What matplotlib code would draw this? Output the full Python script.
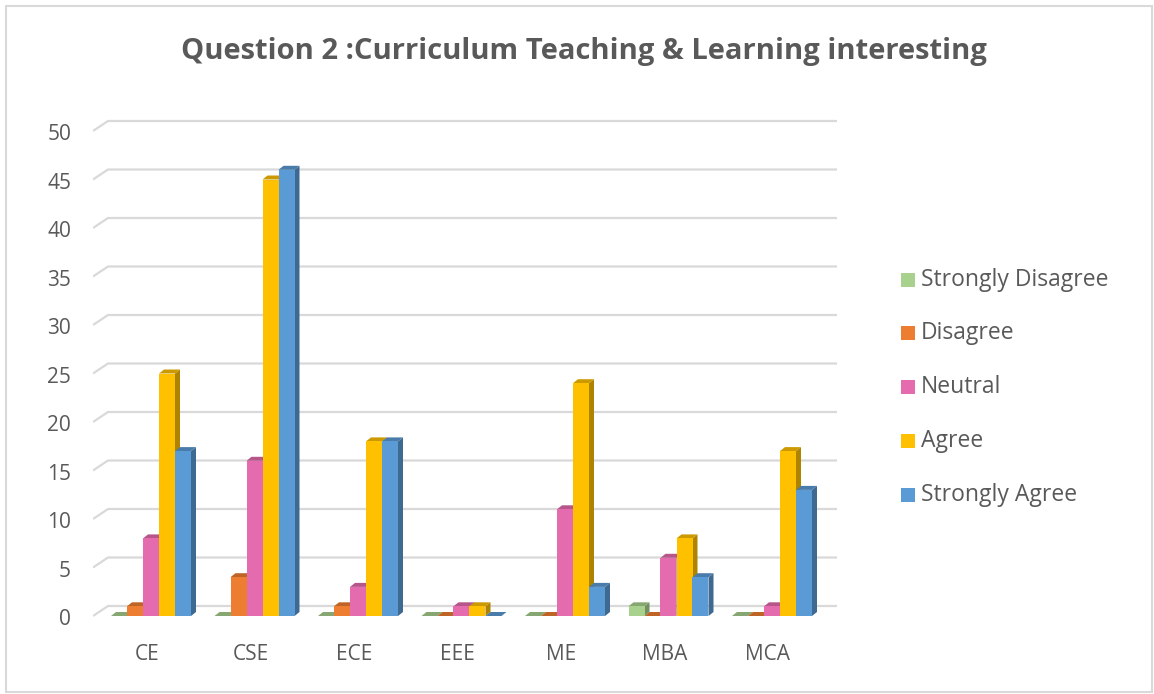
import matplotlib.pyplot as plt
from matplotlib.patches import Polygon, Rectangle
from matplotlib.colors import to_rgb

# 데이터
programs = ['CE', 'CSE', 'ECE', 'EEE', 'ME', 'MBA', 'MCA']
responses = ['Strongly Disagree', 'Disagree', 'Neutral', 'Agree', 'Strongly Agree']
strongly_disagree = [0, 0, 0, 0, 0, 1, 0]
disagree = [1, 4, 1, 0, 0, 0, 0]
neutral = [8, 16, 3, 1, 11, 6, 1]
agree = [25, 45, 18, 1, 24, 8, 17]
strongly_agree = [17, 46, 18, 0, 3, 4, 13]
series = [strongly_disagree, disagree, neutral, agree, strongly_agree]
colors = ['#A9D18E', '#ED7D31', '#E46BAE', '#FFC000', '#5B9BD5']
y_ticks = list(range(0, 51, 5))

title = 'Question 2 :Curriculum Teaching & Learning interesting'
text_color = '#595959'
grid_color = '#D9D9D9'


def shade(c, f):
    r, g, b = to_rgb(c)
    return (r * f, g * f, b * f)


W, H = 1154, 694
fig = plt.figure(figsize=(W / 100, H / 100), dpi=100)
plt.rcParams['font.family'] = ['Open Sans', 'DejaVu Sans']

# 축 위치 (픽셀 기준)
px_left, px_right, px_top, px_bot = 93, 837, 110, 640
ax = fig.add_axes([px_left / W, 1 - px_bot / H,
                   (px_right - px_left) / W, (px_bot - px_top) / H])
x_per_px = 1 / 103.5
y_per_px = 1 / 9.7
x0_px, y0_px = 151, 616
ax.set_xlim((px_left - x0_px) * x_per_px, (px_right - x0_px) * x_per_px)
ax.set_ylim(-(px_bot - y0_px) * y_per_px, (y0_px - px_top) * y_per_px)
ax.axis('off')

# 뒷벽 격자선
xl = ax.get_xlim()[0]
xb = xl + 15 * x_per_px
xr = ax.get_xlim()[1]
dy_grid = 10 * y_per_px
for v in y_ticks:
    ax.plot([xl, xb, xr], [v, v + dy_grid, v + dy_grid], color=grid_color,
            lw=1.6, zorder=1, solid_capstyle='butt')
    ax.text((71 - x0_px) * x_per_px, v - 0.4, str(v), ha='right', va='center',
            fontsize=15, color=text_color)

# 3D 막대
bw = 16 * x_per_px
ddx = 5 * x_per_px
ddy = 4 * y_per_px
z = 2
for i, prog in enumerate(programs):
    start = i - 2.5 * bw
    for k, vals in enumerate(series):
        h = vals[i]
        x0 = start + k * bw
        c = colors[k]
        side = Polygon([(x0 + bw, 0), (x0 + bw + ddx, ddy), (x0 + bw + ddx, h + ddy), (x0 + bw, h)],
                       closed=True, facecolor=shade(c, 0.68), edgecolor='none', zorder=z)
        top = Polygon([(x0, h), (x0 + ddx, h + ddy), (x0 + bw + ddx, h + ddy), (x0 + bw, h)],
                      closed=True, facecolor=shade(c, 0.8), edgecolor='none', zorder=z)
        ax.add_patch(side)
        ax.add_patch(top)
        if h > 0:
            ax.bar(x0, h, width=bw, align='edge', color=c, zorder=z + 0.5)
        z += 1
    ax.text(i - 4 * x_per_px, -(655 - y0_px) * y_per_px, prog, ha='center', va='center',
            fontsize=15, color=text_color)

# 제목
fig.text(0.5 * (180 + 988) / W, 1 - 52 / H, title, ha='center', va='center',
         fontsize=21, fontweight='bold', color=text_color)

# 범례
leg_y = [280, 333, 387, 441, 495]
for k, name in enumerate(responses):
    fig.patches.append(Rectangle((901 / W, 1 - (leg_y[k] + 7) / H), 14 / W, 14 / H,
                                 transform=fig.transFigure, facecolor=colors[k],
                                 edgecolor='none'))
    fig.text(921 / W, 1 - leg_y[k] / H, name, ha='left', va='center',
             fontsize=16.5, color=text_color)

# 차트 테두리
fig.patches.append(Rectangle((6 / W, 2 / H), (W - 8) / W, (H - 8) / H,
                             transform=fig.transFigure, facecolor='none',
                             edgecolor='#D9D9D9', lw=1.5))

fig.savefig('out.png', dpi=100, facecolor='white')
